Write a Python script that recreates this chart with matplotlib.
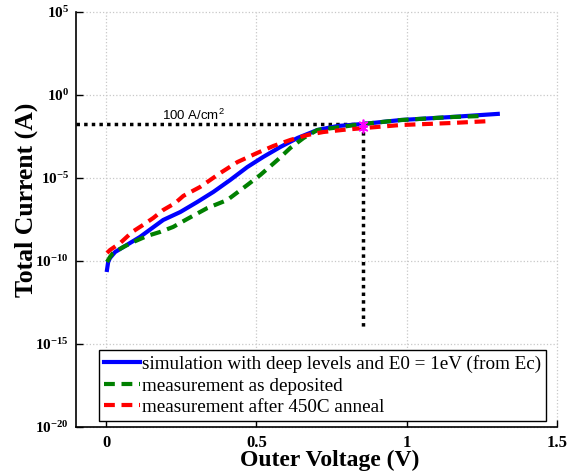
import numpy as np
import matplotlib
matplotlib.use("Agg")
import matplotlib.pyplot as plt

plt.rcParams['font.family'] = 'Liberation Serif'
plt.rcParams['mathtext.fontset'] = 'custom'
plt.rcParams['mathtext.rm'] = 'Liberation Serif:bold'
plt.rcParams['mathtext.bf'] = 'Liberation Serif:bold'

# voltages (V) and log10 of current (A)
v_sim = [0.003, 0.007, 0.013, 0.03, 0.063, 0.113, 0.19, 0.247, 0.303, 0.357, 0.413,
         0.47, 0.523, 0.58, 0.637, 0.703, 0.77, 0.853, 0.98, 1.147, 1.303]
log_sim = [-10.54, -10.06, -9.82, -9.46, -9.10, -8.55, -7.53, -7.05, -6.45, -5.84, -5.12,
           -4.34, -3.73, -3.13, -2.59, -2.11, -1.87, -1.75, -1.51, -1.33, -1.14]

v_dep = [0.003, 0.013, 0.023, 0.057, 0.09, 0.137, 0.18, 0.223, 0.27, 0.337, 0.403,
         0.47, 0.513, 0.57, 0.613, 0.657, 0.703, 0.78, 0.853, 0.98, 1.147, 1.247]
log_dep = [-10.06, -9.76, -9.52, -9.16, -8.86, -8.49, -8.25, -7.95, -7.47, -6.81, -6.33,
           -5.42, -4.82, -3.92, -3.19, -2.59, -2.11, -1.93, -1.75, -1.51, -1.33, -1.27]

v_ann = [0.003, 0.013, 0.047, 0.087, 0.123, 0.157, 0.19, 0.23, 0.257, 0.313, 0.38,
         0.437, 0.503, 0.557, 0.613, 0.67, 0.723, 0.79, 0.853, 0.98, 1.147, 1.28]
log_ann = [-9.52, -9.34, -8.92, -8.25, -7.83, -7.41, -6.93, -6.51, -6.08, -5.54, -4.70,
           -4.04, -3.49, -3.07, -2.71, -2.41, -2.23, -2.10, -2.00, -1.81, -1.69, -1.57]

# 100 A/cm^2 operating point
v_op = 0.853
log_op_sim = -1.75
log_op_ann = -2.00
log_vline_bottom = -14.0

labels = ['simulation with deep levels and E0 = 1eV (from Ec)',
          'measurement as deposited',
          'measurement after 450C anneal']

fig = plt.figure(figsize=(5.75, 4.73), dpi=100)
ax = fig.add_axes([0.1322, 0.0973, 0.8365, 0.8774])

ax.plot(v_sim, 10.0 ** np.array(log_sim), color='#0000ff', lw=3, label=labels[0], zorder=3)
ax.plot(v_dep, 10.0 ** np.array(log_dep), color='#008000', lw=3, ls=(0, (2.6, 1.6)),
        label=labels[1], zorder=4)
ax.plot(v_ann, 10.0 ** np.array(log_ann), color='#ff0000', lw=3, ls=(0, (2.6, 1.6)),
        label=labels[2], zorder=5)

# dotted guide lines
ax.plot([-0.1, v_op], [10 ** log_op_sim, 10 ** log_op_sim], color='black', lw=2.5,
        ls=(0, (1, 1.2)), zorder=2)
ax.plot([v_op, v_op], [10 ** log_op_sim, 10 ** log_vline_bottom], color='black', lw=2.5,
        ls=(0, (1, 1.2)), zorder=2)
ax.plot([v_op, v_op], [10 ** log_op_sim, 10 ** log_op_ann], ls='none', marker=(6, 2, 0),
        ms=7, mew=1.2, color='#ff00ff', zorder=6)
ax.text(0.187, 10 ** -1.5, '100 A/cm$^\\mathregular{2}$', family='Liberation Sans',
        fontsize=9.5, ha='left', va='baseline')

ax.set_yscale('log')
ax.set_xlim(-0.1, 1.5)
ax.set_ylim(1e-20, 1e5)
ax.set_xticks([0, 0.5, 1, 1.5])
ax.set_xticklabels(['0', '0.5', '1', '1.5'], fontweight='bold', fontsize=12)
yt = [-20, -15, -10, -5, 0, 5]
ax.set_yticks([10.0 ** e for e in yt])
ax.set_yticklabels(['$\\mathbf{10^{%d}}$' % e for e in yt], fontsize=11)
ax.minorticks_off()
ax.tick_params(direction='in', length=5, width=1, top=False, right=False)
ax.tick_params(axis='y', pad=5)
ax.tick_params(axis='x', pad=6)

ax.spines['top'].set_visible(False)
ax.spines['right'].set_visible(False)
ax.spines['left'].set_linewidth(1.2)
ax.spines['bottom'].set_linewidth(1.2)
ax.grid(True, color='#c8c8c8', ls=':', lw=0.9)
for gl in ax.get_xgridlines() + ax.get_ygridlines():
    gl.set_clip_on(False)

ax.set_xlabel('Outer Voltage (V)', fontsize=17, fontweight='bold')
ax.set_ylabel('Total Current (A)', fontsize=18.5, fontweight='bold')
ax.xaxis.set_label_coords(0.528, -0.055)
ax.yaxis.set_label_coords(-0.08, 0.547)

leg = ax.legend(loc='lower left', bbox_to_anchor=(0.048, 0.0145), borderaxespad=0,
                fontsize=13.8, handlelength=1.9, handletextpad=0.1, labelspacing=0.22,
                fancybox=False, framealpha=1, edgecolor='black', borderpad=0.25)
leg.get_frame().set_linewidth(1.0)

fig.savefig('out.png', dpi=100)
